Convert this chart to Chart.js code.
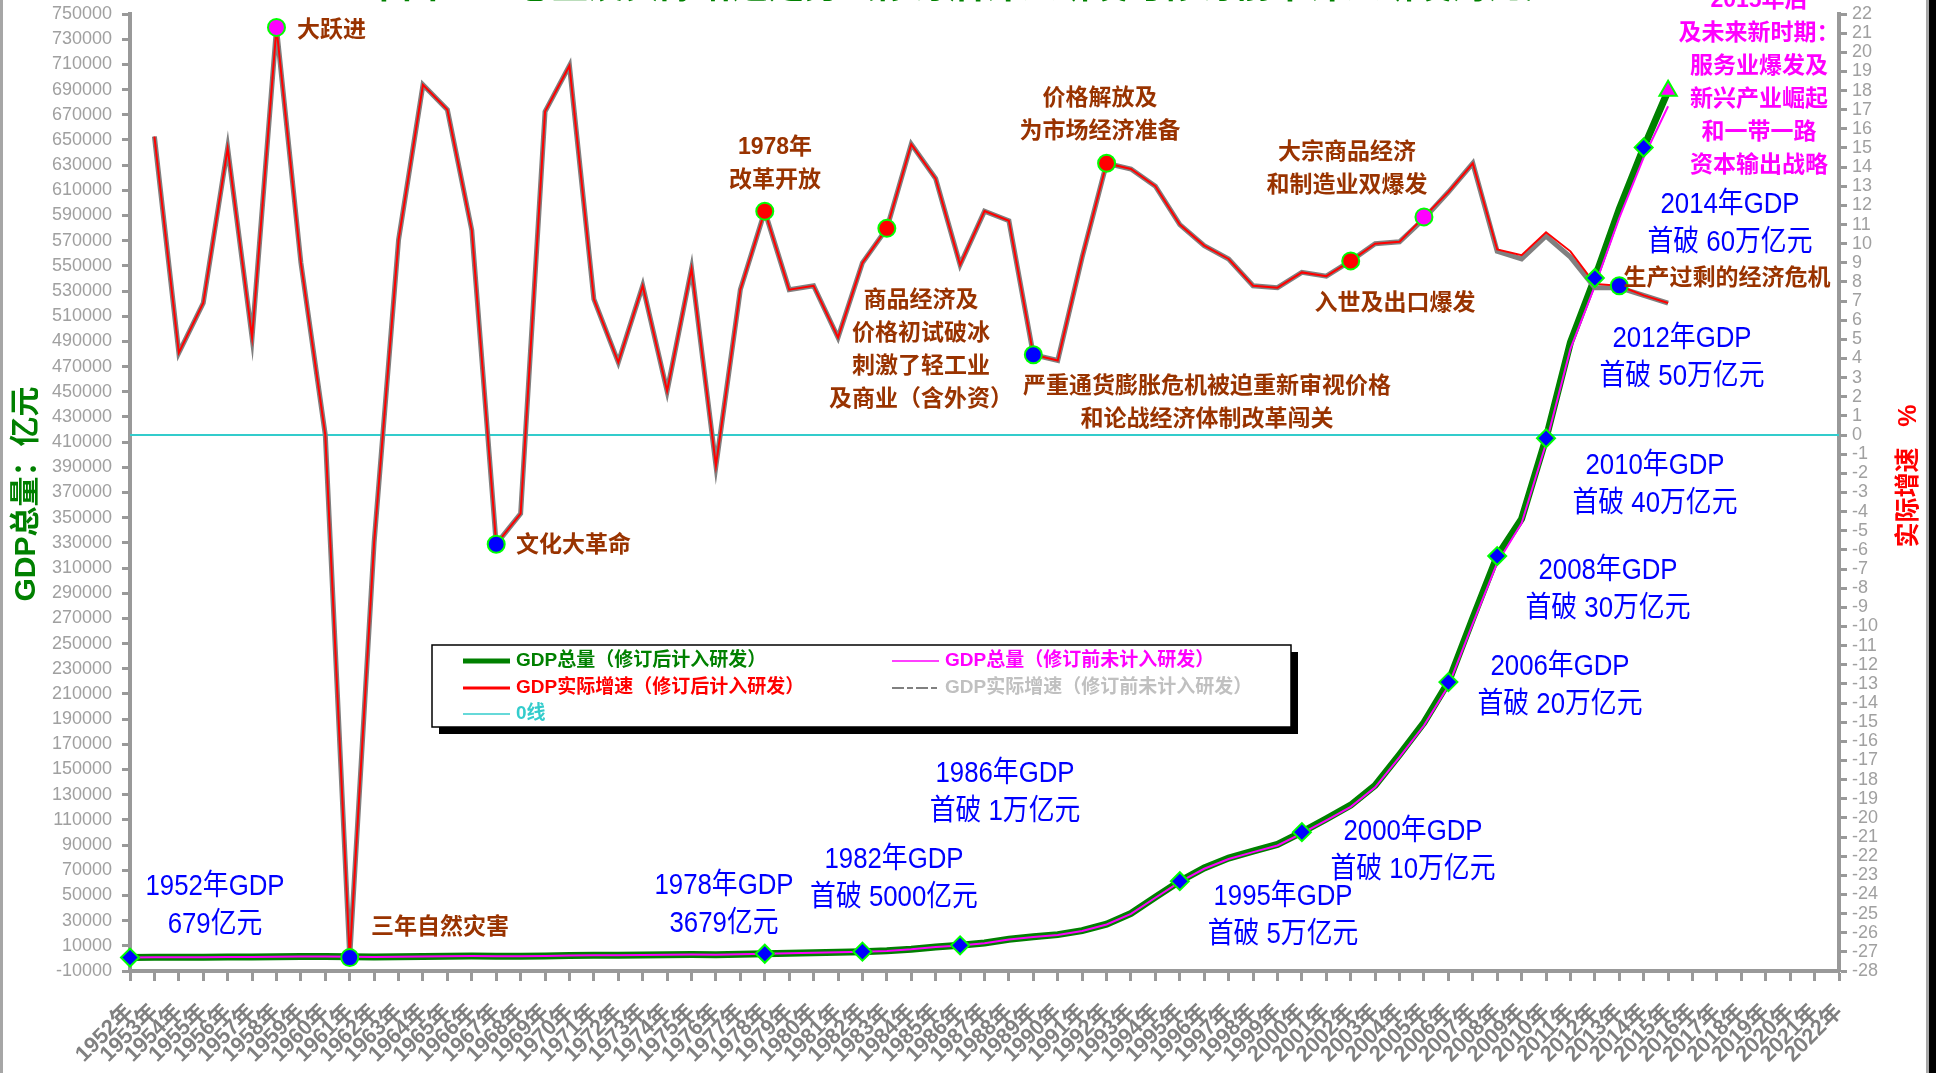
<!DOCTYPE html>
<html>
<head>
<meta charset="utf-8">
<script src="https://cdn.jsdelivr.net/npm/chart.js@4/dist/chart.umd.min.js"></script>
<style>
  html, body { margin: 0; padding: 0; background: #fff; overflow: hidden; }
  canvas { display: block; }
</style>
</head>
<body>
<canvas id="myChart" width="1936" height="1073" style="width:1936px;height:1073px"></canvas>
<script>
// categories 1952年 ... 2022年
const years = [];
for (let y = 1952; y <= 2022; y++) years.push(y + "年");

// GDP总量 亿元 (1952-2015)
const gdpRevised = [679, 824, 859, 911, 1030, 1071, 1312, 1447, 1470, 1232,
  1162, 1248, 1470, 1734, 1888, 1794, 1744, 1962, 2280, 2457,
  2552, 2756, 2828, 3040, 2989, 3250, 3679, 4101, 4588, 4936,
  5373, 6021, 7279, 9099, 10376, 12175, 15180, 17180, 18873, 22006,
  27195, 35673, 48638, 61340, 71814, 79715, 85196, 90564, 100280, 110863,
  121717, 137422, 161840, 187319, 219439, 270232, 319516, 349081, 413030, 489301,
  540367, 595244, 643974, 689052];
const gdpUnrevised = [679, 824, 859, 911, 1030, 1071, 1312, 1447, 1470, 1232,
  1162, 1248, 1470, 1734, 1888, 1794, 1744, 1962, 2280, 2457,
  2552, 2756, 2828, 3040, 2989, 3250, 3645, 4063, 4546, 4892,
  5323, 5963, 7208, 9016, 10275, 12059, 15043, 16992, 18668, 21781,
  26923, 35334, 48198, 60794, 71177, 78973, 84402, 89677, 99215, 109655,
  120333, 135823, 159878, 184937, 216314, 265810, 314045, 345629, 408903, 484124,
  534123, 588019, 636139, 676708];

// 实际增速 % (1952-2015)
const growthRevised = [null, 15.6, 4.3, 6.9, 15.0, 5.1, 21.3, 9.0, 0.0, -27.3,
  -5.6, 10.2, 18.3, 17.0, 10.7, -5.7, -4.1, 16.9, 19.3, 7.1,
  3.8, 7.8, 2.3, 8.7, -1.6, 7.6, 11.7, 7.6, 7.8, 5.1,
  9.0, 10.8, 15.2, 13.4, 8.9, 11.7, 11.2, 4.2, 3.9, 9.3,
  14.2, 13.9, 13.0, 11.0, 9.9, 9.2, 7.8, 7.7, 8.5, 8.3,
  9.1, 10.0, 10.1, 11.4, 12.7, 14.2, 9.7, 9.4, 10.6, 9.6,
  7.9, 7.8, 7.3, 6.9];
const growthUnrevised = [null, 15.6, 4.3, 6.9, 15.0, 5.1, 21.3, 9.0, 0.0, -27.3,
  -5.6, 10.2, 18.3, 17.0, 10.7, -5.7, -4.1, 16.9, 19.3, 7.1,
  3.8, 7.8, 2.3, 8.7, -1.6, 7.6, 11.7, 7.6, 7.8, 5.1,
  9.0, 10.8, 15.2, 13.4, 8.9, 11.7, 11.2, 4.2, 3.9, 9.3,
  14.2, 13.9, 13.0, 11.0, 9.9, 9.2, 7.8, 7.7, 8.5, 8.3,
  9.1, 10.0, 10.1, 11.3, 12.7, 14.2, 9.6, 9.2, 10.4, 9.3,
  7.7, 7.7, 7.3, 6.9];
const zeroLine = years.map(() => 0);

// marked years
const gdpMarkYears = [1952, 1978, 1982, 1986, 1995, 2000, 2006, 2008, 2010, 2012, 2014, 2015];
const growthMarkYears = [1958, 1961, 1967, 1978, 1983, 1989, 1992, 2002, 2005, 2013];
const growthMarkColors = ["#FF00FF", "#0000FF", "#0000FF", "#FF0000", "#FF0000", "#0000FF", "#FF0000", "#FF0000", "#FF00FF", "#0000FF"];

const FONT = '"Liberation Sans", "Noto Sans CJK SC", sans-serif';

// marker datasets built from the series
const gdpMarks = years.map((y, i) => gdpMarkYears.includes(1952 + i) ? gdpRevised[i] : null);
const gdpMarkStyle = years.map((y, i) => (1952 + i) === 2015 ? "triangle" : "rectRot");
const gdpMarkFill = years.map((y, i) => (1952 + i) === 2015 ? "#FF00FF" : "#0000FF");
const growthMarks = years.map((y, i) => growthMarkYears.includes(1952 + i) ? growthRevised[i] : null);
const growthMarkFill = years.map((y, i) => {
  const k = growthMarkYears.indexOf(1952 + i);
  return k >= 0 ? growthMarkColors[k] : "#0000FF";
});

//annotations
const brownNotes = [
  { lines: ["大跃进"], x: 297, y: 31, align: "left" },
  { lines: ["三年自然灾害"], x: 371, y: 928, align: "left" },
  { lines: ["文化大革命"], x: 516, y: 546, align: "left" },
  { lines: ["1978年", "改革开放"], x: 775, y: 148 },
  { lines: ["商品经济及", "价格初试破冰", "刺激了轻工业", "及商业（含外资）"], x: 921, y: 301 },
  { lines: ["价格解放及", "为市场经济准备"], x: 1100, y: 99 },
  { lines: ["严重通货膨胀危机被迫重新审视价格", "和论战经济体制改革闯关"], x: 1207, y: 387 },
  { lines: ["大宗商品经济", "和制造业双爆发"], x: 1347, y: 153 },
  { lines: ["入世及出口爆发"], x: 1395, y: 304 },
  { lines: ["生产过剩的经济危机"], x: 1727, y: 279 }
];
const blueNotes = [
  { lines: ["1952年GDP", "679亿元"], x: 215, y: 887 },
  { lines: ["1978年GDP", "3679亿元"], x: 724, y: 886 },
  { lines: ["1982年GDP", "首破 5000亿元"], x: 894, y: 860 },
  { lines: ["1986年GDP", "首破 1万亿元"], x: 1005, y: 774 },
  { lines: ["1995年GDP", "首破 5万亿元"], x: 1283, y: 897 },
  { lines: ["2000年GDP", "首破 10万亿元"], x: 1413, y: 832 },
  { lines: ["2006年GDP", "首破 20万亿元"], x: 1560, y: 667 },
  { lines: ["2008年GDP", "首破 30万亿元"], x: 1608, y: 571 },
  { lines: ["2010年GDP", "首破 40万亿元"], x: 1655, y: 466 },
  { lines: ["2012年GDP", "首破 50万亿元"], x: 1682, y: 339 },
  { lines: ["2014年GDP", "首破 60万亿元"], x: 1730, y: 205 }
];
const pinkNote = ["2015年后", "及未来新时期：", "服务业爆发及", "新兴产业崛起", "和一带一路", "资本输出战略"];

function drawLines(ctx, lines, x, y, lh) {
  lines.forEach((t, k) => ctx.fillText(t, x, y + k * lh));
}

const extras = {
  id: "extras",
  beforeDraw(chart) {
    const ctx = chart.ctx;
    ctx.save();
    ctx.fillStyle = "#fff";
    ctx.fillRect(0, 0, chart.width, chart.height);
    ctx.restore();
  },
  afterDraw(chart) {
    const ctx = chart.ctx;
    ctx.save();
    // frame
    ctx.fillStyle = "#A6A6A6";
    ctx.fillRect(0, 0, 3, chart.height);
    ctx.fillRect(1926, 0, 3, chart.height);
    ctx.fillStyle = "#000";
    ctx.fillRect(1929, 0, 7, chart.height);

    // title (cut off at top)
    ctx.fillStyle = "#008000";
    ctx.font = "bold 36px " + FONT;
    ctx.textAlign = "center";
    ctx.textBaseline = "alphabetic";
    ctx.fillText("中国GDP总量及实际增速走势（修订后计入研发与修订前未计入研发对比）", 963, -2);

    // axis titles
    ctx.save();
    ctx.translate(27, 494);
    ctx.rotate(-Math.PI / 2);
    ctx.textBaseline = "middle";
    ctx.font = "bold 30px " + FONT;
    ctx.fillStyle = "#008000";
    ctx.fillText("GDP总量：亿元", 0, 0);
    ctx.restore();
    ctx.save();
    ctx.translate(1909, 476);
    ctx.rotate(-Math.PI / 2);
    ctx.textBaseline = "middle";
    ctx.font = "bold 25px " + FONT;
    ctx.fillStyle = "#FF0000";
    ctx.fillText("实际增速   %", 0, 0);
    ctx.restore();

    // legend box
    ctx.fillStyle = "#000";
    ctx.fillRect(439, 652, 859, 82);
    ctx.fillStyle = "#fff";
    ctx.fillRect(432, 645, 859, 82);
    ctx.strokeStyle = "#000";
    ctx.lineWidth = 1.5;
    ctx.strokeRect(432, 645, 859, 82);
    const legendItems = [
      { ds: 5, x: 463, y: 661, w: 5, text: "#008000" },
      { ds: 2, x: 463, y: 688, w: 3, text: "#FF0000" },
      { ds: 6, x: 463, y: 714, w: 1.5, text: "#33CCCC" },
      { ds: 4, x: 892, y: 661, w: 1.5, text: "#FF00FF" },
      { ds: 3, x: 892, y: 688, w: 2, text: "#C0C0C0", dash: [12, 3, 6, 3] }
    ];
    ctx.font = "bold 19px " + FONT;
    ctx.textAlign = "left";
    ctx.textBaseline = "middle";
    legendItems.forEach(it => {
      const d = chart.data.datasets[it.ds];
      ctx.strokeStyle = d.borderColor;
      ctx.lineWidth = it.w;
      ctx.setLineDash(it.dash || []);
      ctx.beginPath();
      ctx.moveTo(it.x, it.y);
      ctx.lineTo(it.x + 47, it.y);
      ctx.stroke();
      ctx.setLineDash([]);
      ctx.fillStyle = it.text;
      ctx.fillText(d.label, it.x + 53, it.y);
    });

    // brown notes
    ctx.fillStyle = "#993300";
    ctx.font = "bold 23px " + FONT;
    brownNotes.forEach(n => {
      ctx.textAlign = n.align || "center";
      drawLines(ctx, n.lines, n.x, n.y, 33);
    });

    // blue notes, slightly condensed
    ctx.fillStyle = "#0000FF";
    ctx.font = "29px " + FONT;
    ctx.textAlign = "center";
    blueNotes.forEach(n => {
      ctx.save();
      ctx.translate(n.x, n.y);
      ctx.scale(0.89, 1);
      drawLines(ctx, n.lines, 0, 0, 38);
      ctx.restore();
    });

    // pink note
    ctx.fillStyle = "#FF00FF";
    ctx.font = "bold 23px " + FONT;
    drawLines(ctx, pinkNote, 1759, 1, 33);
    ctx.restore();
  }
};

const axisGrid = { drawOnChartArea: false, drawTicks: true, tickLength: 8, tickWidth: 3, tickColor: "#999" };

// keep the top label from pushing the plot down
function fixY(width) {
  return function (s) {
    s.width = width;
    s.paddingTop = 0;
    s.paddingBottom = 0;
  };
}

const ctx = document.getElementById("myChart");
const myChart = new Chart(ctx, {
  type: "line",
  data: {
    labels: years,
    datasets: [
      {
        label: "GDP节点",
        data: gdpMarks,
        yAxisID: "y",
        showLine: false,
        clip: false,
        pointStyle: gdpMarkStyle,
        pointRadius: years.map((y, i) => (1952 + i) === 2015 ? 10 : 9),
        pointBackgroundColor: gdpMarkFill,
        pointBorderColor: "#00FF00",
        pointBorderWidth: 2
      },
      {
        label: "增速节点",
        data: growthMarks,
        yAxisID: "y1",
        showLine: false,
        clip: false,
        pointStyle: "circle",
        pointRadius: 8.5,
        pointBackgroundColor: growthMarkFill,
        pointBorderColor: "#00FF00",
        pointBorderWidth: 2
      },
      {
        label: "GDP实际增速（修订后计入研发）",
        data: growthRevised,
        yAxisID: "y1",
        borderColor: "#FF0000",
        borderWidth: 2,
        pointRadius: 0
      },
      {
        label: "GDP实际增速（修订前未计入研发）",
        data: growthUnrevised,
        yAxisID: "y1",
        borderColor: "#808080",
        borderWidth: 5,
        pointRadius: 0
      },
      {
        label: "GDP总量（修订前未计入研发）",
        data: gdpUnrevised,
        yAxisID: "y",
        borderColor: "#FF00FF",
        borderWidth: 2,
        pointRadius: 0
      },
      {
        label: "GDP总量（修订后计入研发）",
        data: gdpRevised,
        yAxisID: "y",
        borderColor: "#008000",
        borderWidth: 7,
        pointRadius: 0
      },
      {
        label: "0线",
        data: zeroLine,
        yAxisID: "y1",
        borderColor: "#33CCCC",
        borderWidth: 2,
        pointRadius: 0
      }
    ]
  },
  options: {
    responsive: false,
    animation: false,
    devicePixelRatio: 1,
    layout: { padding: { top: 14, left: 0, right: 0, bottom: 0 } },
    plugins: { legend: { display: false }, tooltip: { enabled: false }, title: { display: false } },
    scales: {
      x: {
        grid: { drawOnChartArea: false, drawTicks: true, tickLength: 10, tickWidth: 3, tickColor: "#999" },
        border: { display: true, color: "#999", width: 4 },
        ticks: {
          autoSkip: false, minRotation: 45, maxRotation: 45, padding: 18,
          color: "#808080", font: { family: FONT, size: 22, weight: "bold" }
        },
        afterFit(s) { s.height = 102; }
      },
      y: {
        position: "left",
        min: -10000,
        max: 750000,
        grid: axisGrid,
        border: { display: true, color: "#999", width: 4 },
        ticks: {
          stepSize: 20000, autoSkip: false, padding: 10,
          color: "#A0A0A0", font: { family: FONT, size: 18 },
          callback: v => String(v)
        },
        afterFit: fixY(130)
      },
      y1: {
        position: "right",
        min: -28,
        max: 22,
        grid: axisGrid,
        border: { display: true, color: "#999", width: 4 },
        ticks: {
          stepSize: 1, autoSkip: false, padding: 5,
          color: "#A0A0A0", font: { family: FONT, size: 18 },
          callback: v => String(v)
        },
        afterFit: fixY(97)
      }
    }
  },
  plugins: [extras]
});
</script>
</body>
</html>
